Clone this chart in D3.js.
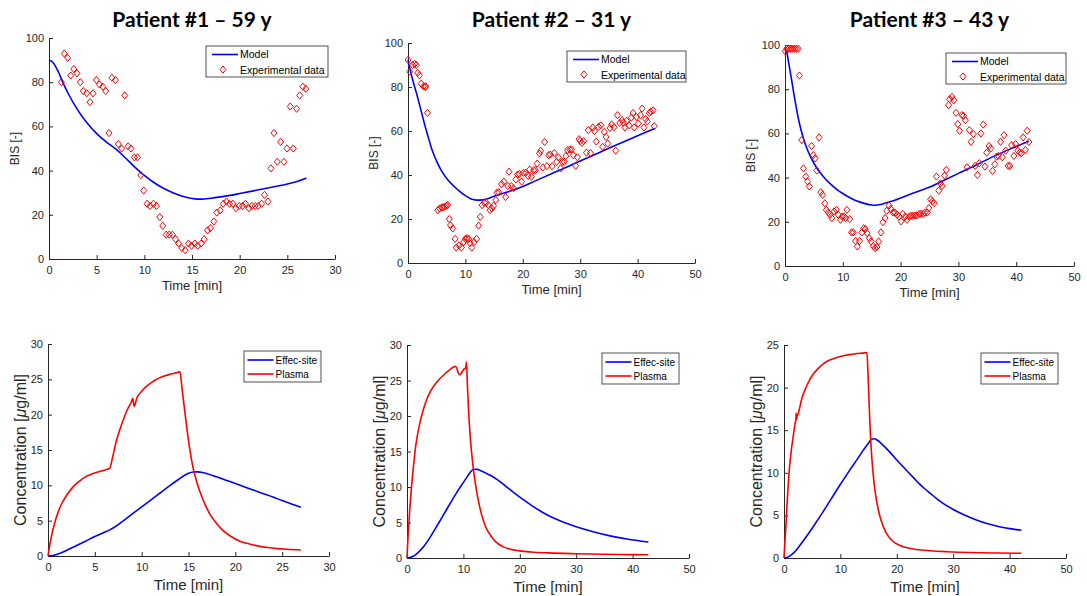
<!DOCTYPE html>
<html>
<head>
<meta charset="utf-8">
<script src="https://cdnjs.cloudflare.com/ajax/libs/d3/7.8.5/d3.min.js"></script>
<style>
body { margin: 0; background: #fff; }
</style>
</head>
<body>
<script>
var titles = ["Patient #1 \u2013 59 y", "Patient #2 \u2013 31 y", "Patient #3 \u2013 43 y"]

var timeTicks30 = [0, 5, 10, 15, 20, 25, 30]
var timeTicks50 = [0, 10, 20, 30, 40, 50]
var bisTicks = [0, 20, 40, 60, 80, 100]
var concTicks30 = [0, 5, 10, 15, 20, 25, 30]
var concTicks25 = [0, 5, 10, 15, 20, 25]

// BIS model, [time, BIS]
var model1 = [[0,90],[0.5,88.5],[1,84.5],[1.5,79.5],[2,75],[3,67.5],[4,61.5],[5,56.7],[6,53],[7,49.8],[8,45.8],[9,41.6],[10,37.8],[11,34.6],[12,32],[13,30],[14,28.4],[15,27.4],[15.5,27.1],[16,27.1],[17,27.5],[18,28.1],[19,28.8],[20,29.6],[22,31.3],[24,33],[25,33.9],[26,35.1],[27,36.7]]
var model2 = [[0,92.3],[0.5,86.5],[1,81.5],[1.5,77],[2,72],[2.5,67],[3,62],[3.5,57.5],[4,53],[4.5,49.3],[5,46.2],[6,41.2],[7,37.6],[8,34.9],[9,32.6],[10,30.6],[11,29.1],[12,28.6],[13,28.7],[15,30.3],[17,32],[20,34.8],[22,37.1],[25,40.6],[28,44],[30,46.4],[33,49.8],[35,52.2],[38,55.6],[40,57.8],[43,61.2]]
var model3 = [[0,97.5],[0.3,96.7],[0.6,92.5],[1,86.5],[1.5,78.5],[2,71],[2.5,64.5],[3,59.5],[3.5,55.3],[4,51.8],[5,46.5],[6,42.5],[7,39.4],[8,36.8],[9,34.6],[10,32.8],[11,31.2],[12,29.9],[13,28.9],[14,28.1],[15,27.6],[15.6,27.5],[16.5,27.8],[17.5,28.6],[19,29.8],[20,30.8],[22,32.8],[24.3,35],[25.4,36.1],[28,39.4],[30,41.9],[33,45.6],[36,49.5],[39,53],[42.2,56.4]]

// measured BIS, [time, BIS]
var bis1 = [[1.3,80],[1.6,93],[1.96,91],[2.28,83],[2.6,86],[2.94,84],[3.29,80],[3.6,76],[3.96,75],[4.3,71],[4.62,75],[4.97,81],[5.29,79],[5.64,78],[5.95,76],[6.3,57],[6.6,82],[6.97,81],[7.28,52],[7.63,50],[7.95,74],[8.3,51],[8.6,50],[8.96,46],[9.28,46],[9.63,38],[9.94,31],[10.29,25],[10.6,24],[10.96,25],[11.27,24],[11.62,19],[11.94,15],[12.29,11],[12.6,11],[12.95,11],[13.27,9],[13.6,7],[13.93,5],[14.28,4],[14.63,7],[14.95,6],[15.3,7],[15.6,6],[15.96,7],[16.28,9],[16.63,13],[16.94,14],[17.29,17],[17.6,21],[17.96,22],[18.27,25],[18.62,26],[18.94,25],[19.29,25],[19.6,23],[19.95,24],[20.3,24],[20.6,25],[20.97,23],[21.28,24],[21.63,24],[21.95,24],[22.3,25],[22.6,29],[22.96,26],[23.28,41],[23.6,57],[23.94,44],[24.3,53],[24.64,44],[24.96,50],[25.3,69],[25.62,50],[25.97,68],[26.3,74],[26.63,78],[26.95,77]]
var bis2 = [[0,92.3],[0.3,87],[0.8,90],[1.16,90.5],[1.45,90],[1.7,86.4],[2,85.3],[2.3,81.5],[2.7,80.3],[3,80],[3.1,80.3],[3.4,68.2],[5.2,24],[5.5,24.8],[5.9,25.3],[6.1,25.3],[6.4,25.6],[6.7,26],[6.9,26.3],[7.2,20],[7.4,17.2],[7.8,15.7],[8.2,11],[8.4,7],[8.9,8],[9.3,7],[9.7,9.5],[10,11],[10.3,11.3],[10.6,11],[10.8,9],[11.1,7],[11.5,9.5],[11.95,11],[12.3,17],[12.6,21],[12.9,26.3],[13.3,27.4],[13.6,27.4],[14,26.3],[14.3,24],[14.6,24.8],[14.9,26],[15.3,28.6],[15.5,32],[15.8,32.2],[16.3,35.9],[16.7,37],[17,30],[17.4,35],[17.6,41.5],[18,35],[18.4,34],[18.8,38],[19.1,40.2],[19.4,40.5],[19.8,37],[20.1,41],[20.5,41],[20.9,39.6],[21.2,42.5],[21.5,39.2],[21.9,42.2],[22.2,42.2],[22.5,45.2],[22.9,49.8],[23.1,51],[23.5,43.4],[23.8,55],[24.2,44],[24.5,49],[24.8,49.3],[25.1,44],[25.5,50],[25.9,46],[26.2,48],[26.6,43],[26.9,46],[27.2,46],[27.5,48.6],[27.8,51.3],[28.2,51.6],[28.5,51.6],[28.8,49],[29.2,44.2],[29.5,48.1],[29.8,56.3],[30,55.5],[30.3,54.6],[30.6,55.4],[31.1,50.2],[31.4,60.4],[31.8,50],[32.2,61.6],[32.5,60],[32.8,55.2],[33.2,61.9],[33.6,62.6],[33.9,52.8],[34.2,59.6],[34.5,57.3],[34.8,54.3],[35.2,61.4],[35.5,63],[35.9,61.7],[36.2,51.1],[36.5,67.2],[36.9,63.7],[37.3,64.9],[37.5,63.8],[37.8,61.6],[38.1,64.6],[38.5,62.6],[38.9,66.1],[39.2,68.2],[39.4,61.6],[39.8,66.4],[40.1,63.4],[40.5,67.2],[40.8,70.2],[41.1,61.6],[41.4,65.5],[41.7,64.3],[42.05,68.2],[42.3,68.8],[42.7,69.4],[42.9,62.2]]
var bis3 = [[0.05,97.1],[0.3,98.3],[0.6,98.3],[0.9,98.3],[1.1,98.3],[1.4,98.3],[1.7,98.3],[2,98.3],[2.3,98.3],[2.5,86.2],[2.9,57],[3.2,44.2],[3.6,40.5],[3.9,38.2],[4.2,36],[4.6,54.3],[4.9,50.2],[5.2,48.7],[5.5,43.2],[5.9,58.2],[6.2,33.4],[6.5,32.2],[6.9,28.4],[7.15,25.4],[7.5,24.2],[7.8,23.2],[8.1,21.7],[8.5,24.7],[8.9,25.4],[9.2,23.2],[9.6,20.9],[9.9,22.4],[10.2,22.4],[10.5,21.7],[10.7,25.4],[11.2,21.2],[11.5,15.2],[11.8,15.2],[12.2,11.3],[12.5,8.9],[12.9,11.3],[13.3,15.2],[13.6,17.1],[13.9,16.7],[14.2,14.9],[14.6,12.6],[14.9,11.1],[15.3,8.9],[15.6,8.1],[15.9,8.6],[16.2,11.1],[16.6,15.2],[16.95,19.8],[17.3,21.7],[17.6,25],[18,27.4],[18.3,25.9],[18.7,24.2],[19,24.2],[19.4,23.2],[19.7,22.4],[20.1,20.2],[20.4,23.6],[20.8,22.4],[21.1,20.9],[21.5,22.4],[21.8,22.7],[22.1,22.7],[22.5,22.9],[22.8,22.9],[23.2,23.5],[23.5,23.6],[23.9,23.6],[24.2,24.1],[24.6,24.2],[24.9,26.2],[25.2,30.2],[25.5,29.2],[25.8,28.4],[26.2,40.5],[26.6,34.1],[26.9,37.4],[27.2,36.2],[27.6,40.9],[27.9,43.5],[28.3,72.8],[28.5,75.5],[28.9,76.5],[29.2,75],[29.6,69.3],[29.9,64.2],[30.2,61.2],[30.6,68.3],[30.9,68],[31.2,66],[31.5,44.7],[31.9,61.5],[32.2,56.2],[32.6,59.7],[32.9,45.3],[33.3,41.2],[33.6,46.5],[33.9,60],[34.3,64],[34.6,45],[34.9,51.3],[35.3,54.3],[35.6,53.2],[35.9,43],[36.3,46],[36.6,49.5],[36.9,49.8],[37.3,56.2],[37.6,49.2],[37.9,59.2],[38.2,52.2],[38.6,45.3],[38.9,45.3],[39.2,54.7],[39.6,49.8],[39.9,55.2],[40.3,52.2],[40.6,51.3],[40.9,51],[41.2,58.2],[41.6,52.5],[41.9,61.2],[42.2,56.1]]

// concentrations, [time, ug/ml]
var effect1 = [[0,0],[0.5,0.08],[1,0.25],[1.5,0.5],[2,0.8],[3,1.45],[4,2.1],[5,2.75],[6,3.35],[6.6,3.7],[7,4],[7.5,4.45],[8,4.95],[9,5.95],[10,6.95],[11,7.95],[12,8.95],[13,9.95],[14,10.9],[14.5,11.35],[15,11.7],[15.5,11.88],[16,11.9],[16.5,11.82],[17,11.65],[18,11.2],[19,10.73],[20,10.25],[21,9.78],[22,9.3],[23,8.82],[24,8.35],[25,7.85],[26,7.37],[27,6.9]]
var plasma1 = [[0,0],[0.2,1.6],[0.4,3],[0.7,4.6],[1,5.9],[1.5,7.5],[2,8.6],[2.5,9.5],[3,10.2],[3.5,10.75],[4,11.2],[4.5,11.5],[5,11.75],[5.5,11.95],[6,12.15],[6.6,12.45],[6.9,14],[7.3,16.3],[7.7,18],[8.1,19.5],[8.5,20.8],[8.9,21.8],[9.05,22.3],[9.2,21.2],[9.5,22.4],[10,23.3],[10.5,24],[11,24.5],[11.5,24.95],[12,25.25],[12.5,25.5],[13,25.7],[13.5,25.85],[14.1,26.05],[14.3,23.8],[14.6,20.5],[14.9,17.3],[15.2,14.6],[15.5,12.4],[15.9,10.4],[16.3,8.8],[16.8,7.2],[17.3,5.9],[18,4.6],[18.7,3.6],[19.5,2.8],[20.5,2.1],[21.5,1.7],[22.5,1.4],[23.5,1.2],[24.5,1.05],[25.5,0.95],[27,0.85]]
var effect2 = [[0,0],[0.5,0.05],[1,0.2],[1.5,0.45],[2,0.8],[2.5,1.2],[3,1.65],[3.5,2.2],[4,2.8],[5,4.1],[6,5.45],[7,6.8],[8,8.15],[9,9.45],[10,10.65],[10.8,11.6],[11.4,12.25],[11.9,12.5],[12.5,12.48],[13,12.32],[14,11.95],[15,11.55],[16,11.05],[17,10.45],[18,9.8],[19,9.18],[20,8.58],[21,8.0],[22,7.45],[24,6.45],[26,5.62],[28,4.95],[30,4.4],[33,3.7],[36,3.12],[39,2.68],[42.8,2.25]]
var plasma2 = [[0,0],[0.15,2.5],[0.3,4.5],[0.5,7],[0.75,9.6],[1,11.8],[1.2,13.3],[1.5,15.5],[1.8,17.1],[2.4,19.4],[3.25,21.8],[4.1,23.4],[5.3,24.8],[6.8,26],[8.3,26.9],[8.6,27],[9.3,25.8],[10.1,26.6],[10.4,26.8],[10.55,27.6],[10.7,24.5],[10.9,21],[11.2,17.2],[11.5,14.5],[11.8,12.3],[12.2,10.1],[12.7,7.9],[13.3,5.9],[14,4.3],[14.8,3.2],[15.7,2.3],[17,1.6],[18.5,1.2],[20,1],[22,0.85],[25,0.72],[30,0.6],[35,0.52],[40,0.48],[42.8,0.45]]
var effect3 = [[0,0],[0.5,0.06],[1,0.22],[1.5,0.48],[2,0.8],[3,1.65],[4,2.55],[5,3.5],[6,4.5],[7,5.5],[8,6.55],[9,7.6],[10,8.65],[11,9.65],[12,10.65],[13,11.6],[14,12.6],[15,13.5],[15.5,13.95],[16,14],[16.5,13.85],[17,13.6],[18,12.95],[19,12.25],[20,11.5],[21,10.8],[22,10.1],[23,9.4],[24,8.7],[25,8.1],[26,7.55],[27,7],[28,6.5],[30,5.7],[32,5.05],[34,4.5],[36,4.05],[38,3.7],[40,3.45],[42.1,3.25]]
var plasma3 = [[0,0],[0.15,1.8],[0.3,3.3],[0.6,7],[1,10.8],[1.3,12.7],[1.6,14.1],[2,15.9],[2.1,16.2],[2.15,17],[2.2,16.2],[2.3,16.6],[2.5,16.9],[2.8,17.7],[3.2,18.8],[3.7,19.7],[4.3,20.6],[5.1,21.5],[6,22.2],[6.9,22.75],[8,23.2],[9,23.45],[10,23.65],[11,23.8],[12,23.9],[13,24],[14,24.05],[14.7,24.1],[14.9,21.5],[15.1,18],[15.3,14.8],[15.6,11.5],[16,8.6],[16.5,6.4],[17,4.9],[17.6,3.7],[18.2,2.85],[19,2.15],[20,1.65],[21.5,1.25],[23.5,1],[26,0.85],[29,0.74],[33,0.64],[38,0.58],[42.1,0.55]]

var axisFont = "Arial, 'Liberation Sans', Helvetica, sans-serif"
var dark = "#262626"

var svg = d3.select("body")
	.append("svg")
	.attr("width", 1087)
	.attr("height", 596)

// plot boxes in px
var topPanels = [
	{left:49, right:335, top:38, bottom:259, xTicks:timeTicks30, model:model1, pts:bis1, leg:{x:206, y:46, w:122, h:31}},
	{left:408, right:695, top:43, bottom:263, xTicks:timeTicks50, model:model2, pts:bis2, leg:{x:567, y:51, w:119, h:31}},
	{left:785, right:1074, top:45, bottom:266, xTicks:timeTicks50, model:model3, pts:bis3, leg:{x:946, y:53, w:120, h:31}}
]
var bottomPanels = [
	{left:48, right:329, top:344, bottom:556, xTicks:timeTicks30, yTicks:concTicks30, effect:effect1, plasma:plasma1, leg:{x:244, y:351, w:77, h:31}},
	{left:407, right:689, top:345, bottom:558, xTicks:timeTicks50, yTicks:concTicks30, effect:effect2, plasma:plasma2, leg:{x:602, y:353, w:77, h:31}},
	{left:784, right:1066, top:345, bottom:558, xTicks:timeTicks50, yTicks:concTicks25, effect:effect3, plasma:plasma3, leg:{x:981, y:353, w:77, h:31}}
]

function last(a) { return a[a.length - 1] }

function drawAxes(p, yTicks) {
	var x = d3.scaleLinear().domain([0, last(p.xTicks)]).range([p.left, p.right])
	var y = d3.scaleLinear().domain([0, last(yTicks)]).range([p.bottom, p.top])
	var g = svg.append("g")
	g.append("g")
		.attr("transform", "translate(0," + p.bottom + ")")
		.call(d3.axisBottom(x).tickValues(p.xTicks).tickSizeInner(-4).tickSizeOuter(0).tickPadding(7))
	g.append("g")
		.attr("transform", "translate(" + p.left + ",0)")
		.call(d3.axisLeft(y).tickValues(yTicks).tickSizeInner(-4).tickSizeOuter(0).tickPadding(5))
	g.selectAll(".domain, .tick line").attr("stroke", dark)
	g.selectAll(".tick text")
		.attr("fill", dark)
		.attr("font-size", 11)
		.attr("font-family", axisFont)
	return {g:g, x:x, y:y}
}

function lineOf(a, color, width) {
	return function(target, x, y) {
		target.append("path")
			.attr("d", d3.line()
				.x(function(d) { return x(d[0]) })
				.y(function(d) { return y(d[1]) })
				.curve(d3.curveMonotoneX)(a))
			.attr("fill", "none")
			.attr("stroke", color)
			.attr("stroke-width", width)
	}
}

var diamond = "M0,-3.6L3,0L0,3.6L-3,0Z"

topPanels.forEach(function(p, i) {
	var ax = drawAxes(p, bisTicks)
	var g = ax.g

	lineOf(p.model, "#0000ff", 1.6)(g, ax.x, ax.y)

	g.selectAll(".pt")
		.data(p.pts)
		.enter()
		.append("path")
		.attr("class", "pt")
		.attr("d", diamond)
		.attr("transform", function(d) { return "translate(" + ax.x(d[0]) + "," + ax.y(d[1]) + ")" })
		.attr("fill", "none")
		.attr("stroke", "#ff0000")
		.attr("stroke-width", 1)

	// title
	svg.append("text")
		.attr("x", (p.left + p.right) / 2)
		.attr("y", 27)
		.attr("text-anchor", "middle")
		.attr("font-family", "Lato, 'Open Sans', sans-serif")
		.attr("font-weight", "bold")
		.attr("font-size", 21)
		.attr("fill", "#000")
		.text(titles[i])

	g.append("text")
		.attr("x", (p.left + p.right) / 2)
		.attr("y", p.bottom + 31)
		.attr("text-anchor", "middle")
		.attr("font-family", axisFont)
		.attr("font-size", 13)
		.attr("fill", dark)
		.text("Time [min]")

	g.append("text")
		.attr("transform", "translate(" + (p.left - 34) + "," + (p.top + p.bottom) / 2 + ") rotate(-90)")
		.attr("dy", "0.35em")
		.attr("text-anchor", "middle")
		.attr("font-family", axisFont)
		.attr("font-size", 12)
		.attr("fill", dark)
		.text("BIS [-]")

	var L = p.leg
	var lg = g.append("g").attr("transform", "translate(" + L.x + "," + L.y + ")")
	lg.append("rect")
		.attr("width", L.w).attr("height", L.h)
		.attr("fill", "#fff").attr("stroke", dark).attr("stroke-width", 0.8)
	lg.append("line")
		.attr("x1", 6).attr("x2", 32).attr("y1", 8.5).attr("y2", 8.5)
		.attr("stroke", "#0000ff").attr("stroke-width", 1.6)
	lg.append("path")
		.attr("d", diamond)
		.attr("transform", "translate(17,23.5)")
		.attr("fill", "none").attr("stroke", "#ff0000")
	lg.selectAll(".lt")
		.data(["Model", "Experimental data"])
		.enter()
		.append("text")
		.attr("x", 34)
		.attr("y", function(d, k) { return 12.3 + k * 15.3 })
		.attr("font-family", axisFont)
		.attr("font-size", 10.5)
		.attr("fill", "#000")
		.text(function(d) { return d })
})

bottomPanels.forEach(function(p) {
	var ax = drawAxes(p, p.yTicks)
	var g = ax.g

	lineOf(p.effect, "#0000ff", 1.6)(g, ax.x, ax.y)
	lineOf(p.plasma, "#ff0000", 1.6)(g, ax.x, ax.y)

	g.append("text")
		.attr("x", (p.left + p.right) / 2)
		.attr("y", p.bottom + 34)
		.attr("text-anchor", "middle")
		.attr("font-family", axisFont)
		.attr("font-size", 15)
		.attr("fill", dark)
		.text("Time [min]")

	var yl = g.append("text")
		.attr("transform", "translate(" + (p.left - 28) + "," + (p.top + p.bottom) / 2 + ") rotate(-90)")
		.attr("dy", "0.35em")
		.attr("text-anchor", "middle")
		.attr("font-family", axisFont)
		.attr("font-size", 16)
		.attr("fill", dark)
	yl.append("tspan").text("Concentration [")
	yl.append("tspan").attr("font-style", "italic").text("\u03bc")
	yl.append("tspan").text("g/ml]")

	var L = p.leg
	var lg = g.append("g").attr("transform", "translate(" + L.x + "," + L.y + ")")
	lg.append("rect")
		.attr("width", L.w).attr("height", L.h)
		.attr("fill", "#fff").attr("stroke", dark).attr("stroke-width", 0.8)
	lg.selectAll(".ll")
		.data([["Effec-site", "#0000ff"], ["Plasma", "#ff0000"]])
		.enter()
		.append("line")
		.attr("x1", 3.5).attr("x2", 29.5)
		.attr("y1", function(d, k) { return 9 + k * 14 })
		.attr("y2", function(d, k) { return 9 + k * 14 })
		.attr("stroke", function(d) { return d[1] })
		.attr("stroke-width", 1.6)
	lg.selectAll(".lt")
		.data(["Effec-site", "Plasma"])
		.enter()
		.append("text")
		.attr("x", 31.5)
		.attr("y", function(d, k) { return 12.6 + k * 14 })
		.attr("font-family", axisFont)
		.attr("font-size", 10)
		.attr("fill", "#000")
		.text(function(d) { return d })
})
</script>
</body>
</html>
